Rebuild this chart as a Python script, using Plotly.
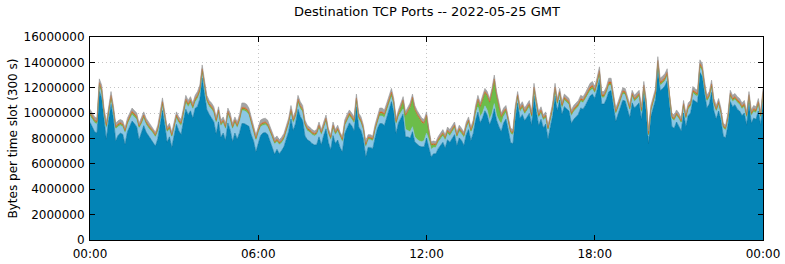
import plotly.graph_objects as go

# 5-minute time slots (minutes since 00:00)
slot_minutes = list(range(0, 1445, 5))

# Total bytes per slot (millions), read from the top edge of the stack
total_m = [
    10.3, 10.0, 9.7, 9.6, 12.7, 12.2, 10.4, 9.3, 10.5, 11.7, 10.6, 9.2,
    9.4, 9.5, 9.4, 8.85, 9.6, 10.0, 10.4, 10.2, 10.0, 9.2, 9.6, 10.1,
    9.6, 9.3, 9.05, 8.8, 8.5, 9.05, 10.0, 11.2, 10.1, 8.9, 9.2, 8.5,
    9.3, 10.1, 9.7, 9.5, 10.4, 11.4, 11.0, 11.3, 10.8, 11.4, 11.7, 12.2,
    13.8, 12.7, 11.4, 11.0, 10.8, 10.5, 9.7, 10.5, 9.45, 9.7, 9.2, 10.4,
    10.0, 9.2, 9.7, 9.3, 9.9, 10.8, 10.8, 10.7, 10.4, 9.7, 9.05, 8.3,
    8.9, 9.45, 9.55, 9.6, 9.45, 9.0, 8.5, 8.0, 8.2, 7.9, 8.1, 8.4,
    9.0, 9.6, 10.6, 9.7, 10.2, 11.4, 10.9, 10.6, 9.45, 9.05, 8.9, 8.7,
    8.6, 8.7, 9.3, 8.7, 9.3, 9.85, 8.8, 8.3, 9.3, 8.7, 9.05, 8.5,
    8.15, 9.45, 9.9, 10.25, 10.0, 9.7, 11.5, 10.0, 9.7, 9.05, 7.75, 8.3,
    8.3, 8.2, 9.1, 9.8, 10.4, 10.4, 10.25, 10.8, 11.3, 11.95, 11.15, 9.6,
    10.25, 10.7, 11.3, 10.1, 10.5, 10.8, 11.5, 10.6, 10.2, 9.85, 9.6, 9.5,
    10.1, 8.8, 7.75, 7.8, 7.75, 8.15, 8.4, 8.7, 8.3, 8.9, 8.7, 9.0,
    9.3, 8.5, 9.05, 8.8, 8.5, 9.3, 9.7, 8.9, 9.45, 10.6, 11.4, 10.8,
    11.3, 11.95, 11.7, 11.15, 11.95, 13.0, 11.7, 10.8, 10.0, 10.4, 10.6, 9.7,
    8.8, 8.7, 10.6, 11.7, 10.6, 10.9, 10.4, 10.7, 11.0, 10.1, 12.35, 11.15,
    10.1, 10.5, 9.85, 10.1, 9.05, 9.9, 10.8, 12.35, 11.15, 11.95, 10.9, 11.5,
    11.3, 11.15, 10.25, 10.6, 10.8, 11.0, 11.4, 11.3, 11.6, 11.95, 12.35, 12.5,
    12.1, 12.8, 13.65, 11.7, 11.7, 12.1, 12.75, 12.75, 11.5, 10.4, 10.9, 11.4,
    12.0, 11.95, 11.3, 10.7, 11.8, 11.4, 11.6, 11.8, 10.5, 12.5, 11.15, 8.6,
    10.6, 11.4, 11.95, 14.45, 12.75, 12.9, 13.1, 13.5, 11.4, 10.0, 9.85, 10.25,
    10.0, 9.6, 11.0, 10.0, 10.8, 11.0, 12.1, 11.9, 11.8, 14.2, 13.9, 12.5,
    11.4, 11.7, 12.6, 11.15, 10.6, 11.15, 10.4, 9.2, 9.05, 10.0, 11.8, 11.4,
    11.55, 11.3, 11.15, 10.8, 11.0, 10.1, 11.7, 10.25, 10.6, 10.5, 11.15, 10.1,
    11.95,
]

# Secondary ports (millions per slot)
light_m = [
    .5, .6, .7, .7, .4, .4, .6, .9, .5, .4, .5, .9,
    .7, .6, .6, .9, .6, .5, .5, .5, .6, .9, .7, .6,
    .6, .6, .6, .7, .7, .6, .5, .4, .5, .8, .6, .8,
    .6, .5, .6, .7, .5, .5, .6, .6, .7, .5, .6, .5,
    .4, .5, .6, .6, .7, .7, .9, .7, .9, .8, .9, .7,
    .8, 1.0, .8, .9, .9, 1.0, 1.0, 1.0, .9, .9, .8, .9,
    .8, .7, .6, .6, .6, .7, .7, .8, .6, .7, .6, .6,
    .6, .6, .5, .6, .5, .5, .6, .7, .8, .7, .7, .7,
    .7, .8, .7, .8, .6, .6, .7, .8, .6, .7, .7, .8,
    .8, .6, .6, .5, .5, .6, .4, .6, .6, .7, .8, .6,
    .6, .6, .6, .5, .6, .6, .6, .5, .5, .4, .5, .7,
    .5, .5, .4, .6, .5, .5, .4, .4, .4, .4, .4, .5,
    .4, .6, .6, .5, .5, .5, .5, .5, .6, .5, .5, .5,
    .5, .6, .5, .5, .6, .5, .5, .6, .5, .5, .4, .5,
    .4, .4, .4, .4, .4, .4, .4, .5, .6, .5, .5, .6,
    .7, .7, .5, .4, .5, .5, .5, .5, .5, .6, .4, .5,
    .6, .5, .6, .5, .7, .5, .5, .4, .5, .4, .5, .5,
    .5, .5, .6, .6, .6, .6, .5, .5, .5, .5, .4, .4,
    .4, .4, .4, .5, .5, .5, .5, .4, .5, .6, .5, .5,
    .5, .5, .5, .6, .5, .5, .5, .5, .6, .4, .5, .6,
    .4, .4, .4, .3, .4, .4, .4, .4, .5, .6, .6, .5,
    .6, .6, .5, .6, .5, .5, .5, .5, .5, .4, .4, .4,
    .5, .5, .4, .5, .6, .5, .5, .6, .6, .5, .4, .4,
    .4, .5, .5, .5, .5, .6, .4, .6, .5, .5, .5, .6,
    .4,
]

green_m = [
    .15, .15, .12, .12, .15, .15, .12, .12, .15, .15, .12, .12,
    .12, .12, .12, .1, .12, .12, .15, .15, .12, .1, .12, .12,
    .12, .12, .1, .1, .1, .12, .12, .15, .12, .1, .12, .1,
    .12, .12, .12, .12, .15, .15, .15, .15, .12, .15, .15, .15,
    .18, .15, .15, .12, .12, .12, .1, .12, .1, .12, .1, .12,
    .12, .1, .12, .1, .12, .15, .15, .15, .12, .12, .1, .1,
    .1, .12, .12, .12, .12, .1, .1, .1, .1, .1, .1, .1,
    .1, .12, .15, .12, .12, .15, .15, .12, .1, .1, .1, .1,
    .1, .1, .12, .1, .12, .12, .1, .1, .12, .1, .12, .1,
    .1, .12, .12, .15, .12, .12, .15, .12, .12, .1, .1, .1,
    .1, .1, .12, .15, .2, .2, .2, .2, .2, .2, .2, .15,
    .15, .3, .6, 1.0, 1.5, 1.9, 2.2, 2.1, 1.9, 1.7, 1.5, 1.3,
    1.3, .6, .3, .2, .15, .15, .15, .15, .15, .15, .15, .15,
    .15, .15, .15, .15, .15, .15, .15, .15, .2, .3, .5, .7,
    .9, 1.0, 1.1, 1.3, 1.6, 1.8, 1.5, 1.0, .5, .3, .2, .15,
    .12, .12, .15, .15, .15, .15, .12, .15, .15, .12, .15, .15,
    .12, .12, .12, .12, .1, .12, .12, .15, .12, .15, .12, .12,
    .12, .12, .12, .12, .12, .12, .12, .12, .12, .12, .15, .15,
    .12, .12, .15, .12, .12, .12, .12, .12, .12, .1, .12, .12,
    .12, .12, .12, .1, .12, .12, .12, .12, .1, .12, .12, .1,
    .12, .12, .12, .15, .12, .12, .12, .12, .12, .1, .1, .1,
    .1, .1, .12, .1, .12, .12, .12, .12, .12, .15, .15, .12,
    .12, .12, .12, .12, .1, .12, .1, .1, .1, .1, .12, .12,
    .12, .12, .12, .12, .12, .1, .12, .1, .12, .12, .12, .1,
    .12,
]

orange_m = [
    .12, .12, .1, .1, .15, .15, .12, .1, .12, .15, .12, .1,
    .1, .1, .1, .1, .12, .12, .12, .12, .12, .1, .1, .12,
    .12, .1, .1, .1, .1, .1, .12, .15, .12, .1, .1, .1,
    .1, .12, .12, .12, .12, .15, .12, .12, .12, .12, .12, .15,
    .15, .15, .12, .12, .12, .12, .1, .12, .1, .1, .1, .12,
    .12, .1, .1, .1, .12, .12, .12, .12, .12, .1, .1, .1,
    .1, .1, .1, .1, .1, .1, .1, .1, .1, .1, .1, .1,
    .1, .1, .12, .1, .12, .15, .12, .12, .1, .1, .1, .1,
    .1, .1, .1, .1, .1, .12, .1, .1, .1, .1, .1, .1,
    .1, .1, .12, .12, .12, .12, .15, .12, .12, .1, .1, .1,
    .1, .1, .1, .12, .12, .12, .12, .12, .12, .15, .12, .1,
    .12, .12, .12, .12, .12, .12, .12, .12, .12, .1, .1, .1,
    .12, .1, .1, .1, .1, .1, .1, .1, .1, .1, .1, .1,
    .1, .1, .1, .1, .1, .1, .1, .1, .1, .12, .12, .12,
    .12, .12, .12, .12, .12, .15, .12, .12, .1, .12, .12, .1,
    .1, .1, .12, .12, .12, .12, .12, .12, .12, .1, .15, .12,
    .1, .12, .1, .1, .1, .1, .12, .15, .12, .12, .12, .12,
    .12, .12, .1, .12, .12, .12, .12, .12, .12, .12, .15, .15,
    .12, .15, .15, .12, .12, .12, .15, .15, .12, .1, .12, .12,
    .12, .12, .12, .12, .12, .12, .12, .12, .1, .15, .12, .1,
    .12, .12, .12, .15, .15, .15, .15, .15, .12, .1, .1, .1,
    .1, .1, .12, .1, .12, .12, .12, .12, .12, .15, .15, .12,
    .12, .12, .15, .12, .12, .12, .1, .1, .1, .1, .12, .12,
    .12, .12, .12, .12, .12, .1, .12, .1, .12, .12, .12, .1,
    .12,
]

gray_m = [
    .25, .25, .25, .25, .3, .3, .25, .25, .25, .3, .25, .25,
    .25, .25, .25, .2, .25, .25, .25, .25, .25, .2, .25, .25,
    .25, .25, .2, .2, .2, .25, .25, .3, .25, .2, .25, .2,
    .25, .25, .25, .25, .25, .3, .25, .25, .25, .25, .3, .3,
    .3, .3, .25, .25, .25, .25, .25, .25, .25, .25, .25, .25,
    .3, .25, .25, .25, .3, .35, .35, .35, .3, .3, .25, .25,
    .25, .3, .3, .3, .3, .25, .25, .25, .25, .2, .25, .25,
    .25, .25, .3, .25, .25, .3, .3, .25, .25, .25, .2, .2,
    .2, .2, .25, .2, .25, .25, .2, .2, .25, .2, .25, .2,
    .2, .25, .25, .25, .25, .25, .3, .25, .25, .2, .2, .2,
    .2, .2, .25, .25, .3, .3, .3, .3, .3, .3, .25, .25,
    .25, .25, .25, .25, .25, .25, .25, .25, .25, .25, .25, .25,
    .25, .2, .2, .2, .2, .2, .2, .25, .2, .25, .25, .25,
    .25, .2, .25, .2, .2, .25, .25, .2, .25, .25, .3, .25,
    .25, .25, .25, .25, .25, .3, .25, .25, .25, .25, .25, .2,
    .2, .2, .25, .25, .25, .25, .25, .25, .25, .25, .3, .25,
    .25, .25, .2, .25, .2, .25, .25, .3, .25, .25, .25, .25,
    .25, .25, .25, .25, .25, .25, .25, .25, .25, .25, .3, .3,
    .3, .3, .3, .25, .25, .25, .3, .3, .25, .25, .25, .25,
    .25, .25, .25, .25, .25, .25, .25, .25, .25, .3, .25, .2,
    .25, .25, .25, .3, .3, .3, .3, .3, .25, .25, .25, .25,
    .25, .2, .25, .25, .25, .25, .3, .25, .25, .3, .3, .3,
    .25, .25, .3, .25, .25, .25, .25, .2, .2, .25, .25, .25,
    .25, .25, .25, .25, .25, .25, .25, .25, .25, .25, .25, .25,
    .25,
]

x_tick_vals = [0, 6, 12, 18, 24]
x_tick_text = ["00:00", "06:00", "12:00", "18:00", "00:00"]
y_tick_vals = [0, 2000000, 4000000, 6000000, 8000000, 10000000, 12000000, 14000000, 16000000]

hours = [m / 60 for m in slot_minutes]
M = 1_000_000
main_b = [(t - l - g - o - r) * M for t, l, g, o, r in zip(total_m, light_m, green_m, orange_m, gray_m)]
light_b = [v * M for v in light_m]
green_b = [v * M for v in green_m]
orange_b = [v * M for v in orange_m]
gray_b = [v * M for v in gray_m]

layers = [
    ("main", main_b, "#0384b6", "#02709c"),
    ("light", light_b, "#8cc7e4", "#7fbcdc"),
    ("green", green_b, "#6cbd4a", "#5fae40"),
    ("orange", orange_b, "#d9661f", "#cf5f1c"),
    ("other", gray_b, "#a3a3a3", "#959595"),
]

fig = go.Figure()
for name, vals, fill, line in layers:
    fig.add_trace(go.Scatter(
        x=hours, y=vals, name=name, mode="lines", stackgroup="one",
        fillcolor=fill, line=dict(color=line, width=0.6), hoverinfo="skip",
    ))

fig.update_layout(
    width=785, height=264,
    margin=dict(l=90, r=22, t=37, b=24, autoexpand=False),
    paper_bgcolor="white", plot_bgcolor="white",
    showlegend=False,
    font=dict(family="DejaVu Sans", size=12, color="black"),
    title=dict(text="Destination TCP Ports -- 2022-05-25 GMT", x=0.5439, xanchor="center",
               y=1 - 11 / 264, yanchor="middle", yref="container",
               font=dict(size=13, family="DejaVu Sans", color="black")),
)
fig.update_xaxes(
    range=[0, 24], tickvals=x_tick_vals, ticktext=x_tick_text,
    showline=True, linecolor="black", linewidth=1, mirror="allticks",
    ticks="inside", ticklen=5, tickcolor="black",
    showgrid=True, gridcolor="#c4c4c4", griddash="1px,3px", gridwidth=1,
    zeroline=False, tickfont=dict(size=12), automargin=False,
    ticklabelstandoff=3,
)
fig.update_yaxes(
    range=[0, 16000000], tickvals=y_tick_vals, tickformat="d",
    showline=True, linecolor="black", linewidth=1, mirror="allticks",
    ticks="inside", ticklen=5, tickcolor="black",
    showgrid=True, gridcolor="#c4c4c4", griddash="1px,3px", gridwidth=1,
    zeroline=False, tickfont=dict(size=12), automargin=False,
    ticklabelstandoff=2,
    title=dict(text="Bytes per time slot (300 s)", font=dict(size=12), standoff=3),
)

fig.write_html("out.html")
